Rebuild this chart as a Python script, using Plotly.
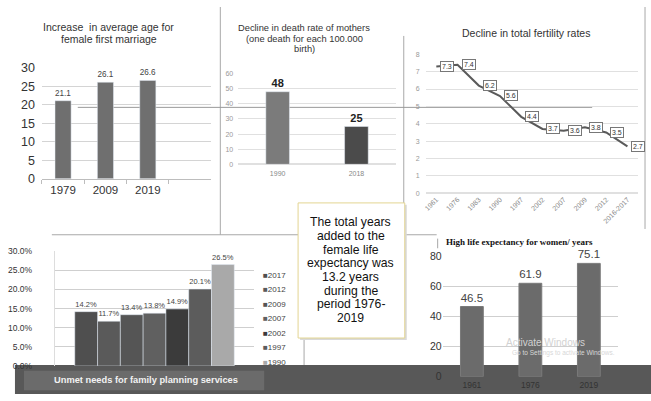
import plotly.graph_objects as go

W, H = 651, 401


def px(x):
    return x / W


def py(y):
    return 1 - y / H


# ---------------- data ----------------
marriage_years = ["1979", "2009", "2019"]
marriage_age = [21.1, 26.1, 26.6]

mmr_years = ["1990", "2018"]
mmr_values = [48, 25]

tfr_years = ["1961", "1976", "1983", "1990", "1997", "2002", "2007", "2009", "2012", "2016-2017"]
tfr_values = [7.3, 7.4, 6.2, 5.6, 4.4, 3.7, 3.6, 3.8, 3.5, 2.7]

unmet_years = ["2017", "2012", "2009", "2007", "2002", "1997", "1990"]
unmet_values = [14.2, 11.7, 13.4, 13.8, 14.9, 20.1, 26.5]
unmet_colors = ["#4f4f4f", "#5a5a5a", "#555555", "#606060", "#3b3b3b", "#5c5c5c", "#a9a9a9"]

life_years = ["1961", "1976", "2019"]
life_values = [46.5, 61.9, 75.1]

note_lines = ["The total years", "added to the", "female life", "expectancy was",
              "13.2 years", "during the", "period 1976-", "2019"]

FONT = "Liberation Sans, Arial, sans-serif"

fig = go.Figure()

# Panel 1: age at first marriage
fig.add_trace(go.Bar(
    x=marriage_years, y=marriage_age, xaxis="x", yaxis="y", width=0.38,
    marker=dict(color="#6f6f6f"), text=marriage_age, textposition="outside",
    textfont=dict(size=12, color="#444"), cliponaxis=False, showlegend=False))

# Panel 2: maternal mortality
fig.add_trace(go.Bar(
    x=mmr_years, y=mmr_values, xaxis="x2", yaxis="y2", width=0.3,
    marker=dict(color=["#7b7b7b", "#4b4b4b"]), texttemplate="<b>%{y}</b>",
    textposition="outside", textfont=dict(size=11, color="#222"),
    cliponaxis=False, showlegend=False))

# Panel 3: fertility
fig.add_trace(go.Scatter(
    x=tfr_years, y=tfr_values, xaxis="x3", yaxis="y3", mode="lines",
    line=dict(color="#5a5a5a", width=2), showlegend=False))

# Panel 4: unmet needs
for yr, v, c in zip(unmet_years, unmet_values, unmet_colors):
    fig.add_trace(go.Bar(
        x=["Unmet"], y=[v], name=yr, xaxis="x4", yaxis="y4",
        marker=dict(color=c), texttemplate="%{y:.1f}%", textposition="outside",
        textfont=dict(size=7.5, color="#444"), cliponaxis=False, showlegend=False))

# Panel 5: life expectancy
fig.add_trace(go.Bar(
    x=life_years, y=life_values, xaxis="x5", yaxis="y5", width=0.39,
    marker=dict(color="#6b6b6b", line=dict(color="#7a7a7a", width=1)),
    text=life_values, textposition="outside",
    textfont=dict(size=11.5, color="#444"), cliponaxis=False, showlegend=False))

grid = "#d4d4d4"

annotations = []


def text(x, y, s, size, color="#333", anchor="center", family=FONT, **kw):
    annotations.append(dict(x=px(x), y=py(y), xref="paper", yref="paper", text=s,
                            showarrow=False, xanchor=anchor, yanchor="middle",
                            font=dict(size=size, color=color, family=family), **kw))


# titles
text(107, 21, "Increase  in average age for", 10.5)
text(107, 33, "female first marriage", 10.5)
text(303, 22, "Decline in death rate of mothers", 9.3)
text(303, 33, "(one death for each 100.000", 9.3)
text(303, 44, "birth)", 9.3)
text(526, 27, "Decline in total fertility rates", 10.5)
text(443, 243, "<b>High life expectancy for women/ years</b>", 9, color="#111",
     anchor="left", family="Liberation Serif, Times New Roman, serif")

# fertility value boxes (category index positions on the x3 axis)
for i, v in enumerate(tfr_values):
    annotations.append(dict(x=i, y=v, xref="x3", yref="y3", text=str(v), showarrow=False,
                            xshift=11, bordercolor="#777", borderwidth=1, borderpad=1,
                            bgcolor="white", font=dict(size=7, color="#333", family=FONT)))

# unmet legend (built from the data)
for i, (yr, c) in enumerate(zip(unmet_years, unmet_colors)):
    text(260, 278 + 15 * i, f"<span style='color:{c}'>■</span>{yr}", 8, color="#444", anchor="left")

# note box text
for i, s in enumerate(note_lines):
    text(350, 223 + 14.2 * i, s, 12.2, color="#111")

# band label
text(144, 387, "<b>Unmet needs for family planning services</b>", 9.3, color="#f2f2f2")

# watermark
text(545, 348, "Activate Windows", 10, color="#d2d2d2")
text(563, 358, "Go to Settings to activate Windows.", 6.5, color="#d8d8d8")

shapes = []


def line(x0, y0, x1, y1, color="#a8a8a8", width=1, layer="below"):
    shapes.append(dict(type="line", xref="paper", yref="paper", x0=px(x0), y0=py(y0),
                       x1=px(x1), y1=py(y1), line=dict(color=color, width=width), layer=layer))


def rect(x0, y0, x1, y1, fill, lc=None, lw=0, layer="above"):
    shapes.append(dict(type="rect", xref="paper", yref="paper", x0=px(x0), y0=py(y0),
                       x1=px(x1), y1=py(y1), fillcolor=fill,
                       line=dict(color=lc or fill, width=lw), layer=layer))


line(219, 0, 219, 236)
line(403, 30, 403, 203)
line(645, 0, 645, 230)
line(76, 104, 592, 104, color="#9a9a9a")
line(50, 236, 297, 236)
line(404, 236, 436, 236)
line(437, 240, 437, 250)
line(303, 343, 303, 371)

# note box with shadow
rect(299, 205, 406, 345, "#d9d9d9")
rect(297, 203, 404, 343, "white", lc="#e3d592", lw=1)

# dark band (drawn beneath the plots so tick labels stay readable on it)
rect(13, 371, 651, 401, "#585858", layer="below")
rect(22, 377, 263, 397, "#6b6b6b", layer="below")

axis_common = dict(showgrid=False, zeroline=False)

fig.update_layout(
    width=W, height=H, margin=dict(l=0, r=0, t=0, b=0),
    paper_bgcolor="white", plot_bgcolor="rgba(0,0,0,0)",
    font=dict(family=FONT, color="#333"),
    barmode="group", bargap=0.2, bargroupgap=0,
    annotations=annotations, shapes=shapes,
    xaxis=dict(domain=[px(40), px(210)], anchor="y", type="category",
               categoryarray=marriage_years, range=[-0.5, 3.5], showline=True,
               linecolor="#bdbdbd", ticks="outside", tickson="boundaries", ticklen=4,
               tickcolor="#bdbdbd", tickfont=dict(size=11.5, color="#333"), **axis_common),
    yaxis=dict(domain=[py(178), py(63)], anchor="x", range=[0, 30], dtick=5,
               showgrid=True, gridcolor=grid, zeroline=False, ticklabelstandoff=6,
               tickfont=dict(size=12.5, color="#333")),
    xaxis2=dict(domain=[px(237), px(395)], anchor="y2", type="category",
                tickfont=dict(size=7, color="#888"), ticklabelstandoff=4, **axis_common),
    yaxis2=dict(domain=[py(163), py(69)], anchor="x2", range=[0, 60], dtick=10,
                showgrid=True, gridcolor="#e0e0e0", zeroline=True, zerolinecolor="#e0e0e0",
                ticklabelstandoff=4, tickfont=dict(size=7, color="#999")),
    xaxis3=dict(domain=[px(425), px(638)], anchor="y3", type="category",
                range=[-0.5, 9.5], tickangle=-45, tickfont=dict(size=7, color="#888"),
                **axis_common),
    yaxis3=dict(domain=[py(193), py(49)], anchor="x3", range=[0, 8], dtick=1,
                showgrid=True, gridcolor="#e0e0e0", zeroline=True, zerolinecolor="#e0e0e0",
                ticklabelstandoff=5, tickfont=dict(size=7, color="#999")),
    xaxis4=dict(domain=[px(53), px(253)], anchor="y4", type="category",
                range=[-0.5, 0.5], showticklabels=False, **axis_common),
    yaxis4=dict(domain=[py(372), py(253)], anchor="x4", range=[0, 30], dtick=5,
                ticksuffix="%", tickformat=".1f", showgrid=True, gridcolor="#cfcfcf",
                zeroline=False, showline=True, linecolor="#dddddd", ticklabelstandoff=20,
                tickfont=dict(size=8.5, color="#333")),
    xaxis5=dict(domain=[px(442), px(618)], anchor="y5", type="category",
                tickfont=dict(size=8.5, color="#333"), ticklabelstandoff=2, **axis_common),
    yaxis5=dict(domain=[py(383), py(258)], anchor="x5", range=[0, 80], dtick=20,
                showgrid=True, gridcolor="#cfcfcf", zeroline=False,
                tickfont=dict(size=10.5, color="#333")),
)

fig.write_html("out.html", config={"displayModeBar": False},
               post_script="document.body.style.margin='0';")
